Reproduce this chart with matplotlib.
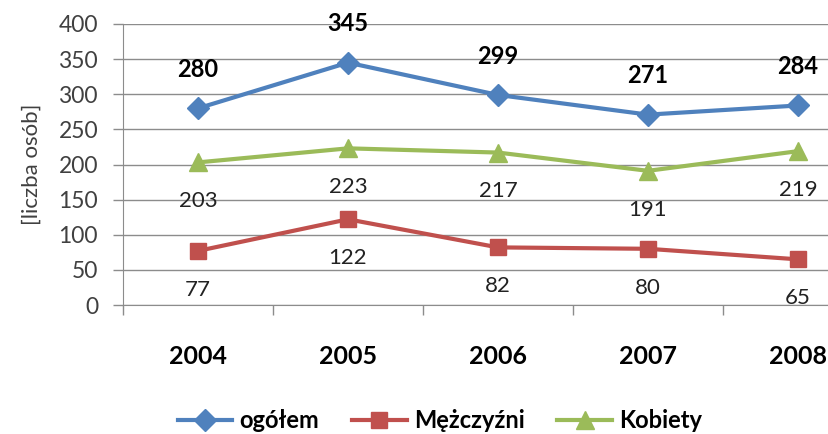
import numpy as np
import matplotlib.pyplot as plt

plt.rcParams['font.family'] = ['Lato', 'DejaVu Sans']

# dane
lata = ['2004', '2005', '2006', '2007', '2008']
ogolem = [280, 345, 299, 271, 284]
mezczyzni = [77, 122, 82, 80, 65]
kobiety = [203, 223, 217, 191, 219]

niebieski = '#4F81BD'
czerwony = '#C0504D'
zielony = '#9BBB59'
szary = '#8C8C8C'

fig = plt.figure(figsize=(8.29, 4.34), dpi=100)
ax = fig.add_axes([123 / 829, 1 - 305 / 434, 750 / 829, 281 / 434])

x = np.arange(len(lata))
ax.plot(x, ogolem, color=niebieski, lw=3, marker='D', ms=11, label='ogółem', zorder=3)
ax.plot(x, mezczyzni, color=czerwony, lw=3, marker='s', ms=12, label='Mężczyźni', zorder=3)
ax.plot(x, kobiety, color=zielony, lw=3, marker='^', ms=13, label='Kobiety', zorder=3)

# etykiety danych
for xi, v in zip(x, ogolem):
    ax.annotate(str(v), (xi, v), xytext=(0, 28), textcoords='offset points',
                ha='center', va='center', fontsize=17, fontweight='bold', color='black')
for xi, v in zip(x, kobiety):
    ax.annotate(str(v), (xi, v), xytext=(0, -28), textcoords='offset points',
                ha='center', va='center', fontsize=16, color='#222222')
for xi, v in zip(x, mezczyzni):
    ax.annotate(str(v), (xi, v), xytext=(0, -28), textcoords='offset points',
                ha='center', va='center', fontsize=16, color='#222222')

ax.set_xlim(-0.5, 4.5)
ax.set_ylim(0, 400)
ax.set_yticks(np.arange(0, 401, 50))
ax.yaxis.grid(True, color=szary, lw=1)
ax.set_axisbelow(True)

ax.set_xticks(x)
ax.set_xticklabels(lata, fontsize=18, fontweight='bold')
ax.set_xticks(np.arange(-0.5, 5, 1), minor=True)
ax.tick_params(axis='x', which='major', length=0, pad=29)
ax.tick_params(axis='x', which='minor', length=7, color=szary, width=1)
ax.tick_params(axis='y', length=7, color=szary, width=1, pad=11, labelsize=16.5,
               labelcolor='#404040')

for s in ['top', 'right']:
    ax.spines[s].set_visible(False)
ax.spines['left'].set_color(szary)
ax.spines['bottom'].set_color(szary)

ax.set_ylabel('[liczba osób]', fontsize=16, color='#404040', labelpad=12)

fig.legend(loc='center', bbox_to_anchor=(440 / 829, 1 - 421 / 434), ncol=3, frameon=False,
           prop={'size': 17, 'weight': 'bold'}, handlelength=2.3, handletextpad=0.3,
           columnspacing=1.4, borderaxespad=0)

fig.savefig('out.png', dpi=100)
